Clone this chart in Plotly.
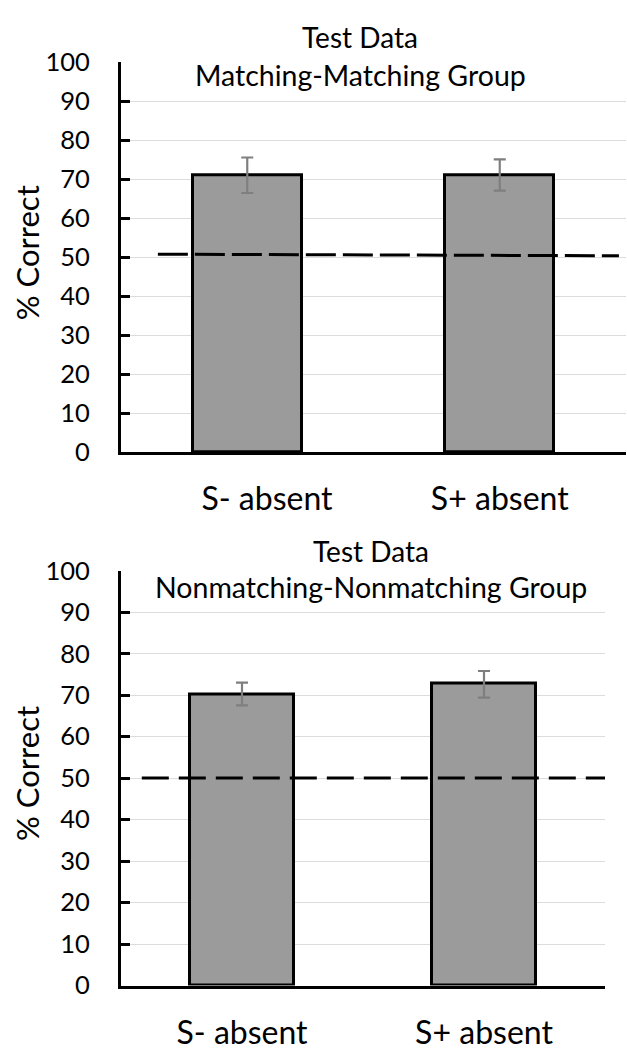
import plotly.graph_objects as go

# ---- data ----
categories = ["S- absent", "S+ absent"]
mm_values = [71.1, 71.1]
mm_err_plus = [4.5, 4.0]
mm_err_minus = [4.6, 4.0]
nn_values = [70.2, 72.7]
nn_err_plus = [2.8, 3.1]
nn_err_minus = [2.7, 3.3]
chance_mm = [50.8, 50.4]
chance_nn = [50.0, 50.0]
y_ticks = [0, 10, 20, 30, 40, 50, 60, 70, 80, 90, 100]
panel_titles = ["Matching-Matching Group", "Nonmatching-Nonmatching Group"]
super_title = "Test Data"
y_title = "% Correct"

W, H = 627, 1062
FONT = "Lato"
BAR_FILL = "#9b9b9b"
ERR_COL = "#7f7f7f"

fig = go.Figure()

def px_x(p):
    return p / W

def px_y(p):
    return 1 - p / H

bar_pos = [0, 1]

panels = [
    dict(vals=mm_values, ep=mm_err_plus, em=mm_err_minus, chance=chance_mm,
         xdom=[px_x(121), px_x(626)], ydom=[px_y(449), px_y(47.7)],
         xa="x", ya="y", dash="30px,7px", cx=[0.073, 0.986],
         lab_shift=[0.078, 0.0],
         t1y=22, t2y=61, tx=360, title=panel_titles[0]),
    dict(vals=nn_values, ep=nn_err_plus, em=nn_err_minus, chance=chance_nn,
         xdom=[px_x(121), px_x(605)], ydom=[px_y(997.7), px_y(570.7)],
         xa="x2", ya="y2", dash="27px,10px", cx=[0.043, 1.0],
         lab_shift=[0.0, 0.0],
         t1y=551, t2y=588, tx=371, title=panel_titles[1]),
]

for i, p in enumerate(panels):
    fig.add_trace(go.Bar(
        x=bar_pos, y=p["vals"], width=0.43,
        marker=dict(color=BAR_FILL, line=dict(color="black", width=3)),
        error_y=dict(type="data", array=p["ep"], arrayminus=p["em"],
                     color=ERR_COL, thickness=2.2, width=6),
        xaxis=p["xa"], yaxis=p["ya"], showlegend=False,
    ))
    sfx = "" if i == 0 else "2"
    fig.add_shape(type="line", xref=f"x{sfx} domain", yref=f"y{sfx}",
                  x0=p["cx"][0], x1=p["cx"][1], y0=p["chance"][0], y1=p["chance"][1],
                  line=dict(color="black", width=3, dash=p["dash"]), layer="above")
    tick_pos = [b + s for b, s in zip(bar_pos, p["lab_shift"])]
    xaxis = dict(domain=p["xdom"], range=[-0.5, 1.5], tickvals=tick_pos, ticktext=categories,
                 showline=True, linecolor="black", linewidth=3, ticks="",
                 showgrid=False, zeroline=False, fixedrange=True,
                 tickfont=dict(family=FONT, size=32, color="black"),
                 ticklabelstandoff=16 if i == 0 else 17, anchor=p["ya"])
    yaxis = dict(domain=p["ydom"], range=[0, 100], tickvals=y_ticks,
                 showline=True, linecolor="black", linewidth=3,
                 ticks="inside", ticklen=9, tickwidth=3, tickcolor="black",
                 showgrid=True, gridcolor="#dcdcdc", gridwidth=1.2,
                 zeroline=False, fixedrange=True,
                 tickfont=dict(family=FONT, size=25.5, color="black"),
                 ticklabelstandoff=23, anchor=p["xa"])
    fig.update_layout(**{f"xaxis{sfx}": xaxis, f"yaxis{sfx}": yaxis})
    fig.add_annotation(text=super_title, xref="paper", yref="paper",
                       x=px_x(p["tx"]), y=px_y(p["t1y"]), showarrow=False,
                       xanchor="center", yanchor="middle",
                       font=dict(family=FONT, size=28, color="black"))
    fig.add_annotation(text=p["title"], xref="paper", yref="paper",
                       x=px_x(p["tx"]), y=px_y(p["t2y"]), showarrow=False,
                       xanchor="center", yanchor="middle",
                       font=dict(family=FONT, size=28.5, color="black"))
    fig.add_annotation(text=y_title, xref="paper", yref="paper",
                       x=px_x(27), y=(p["ydom"][0] + p["ydom"][1]) / 2 + 0.004,
                       showarrow=False, textangle=-90,
                       xanchor="center", yanchor="middle",
                       font=dict(family=FONT, size=31, color="black"))

fig.update_layout(
    width=W, height=H, margin=dict(l=0, r=0, t=0, b=0),
    paper_bgcolor="white", plot_bgcolor="white",
    bargap=0, showlegend=False,
)

fig.write_html("out.html", config={"displayModeBar": False})
